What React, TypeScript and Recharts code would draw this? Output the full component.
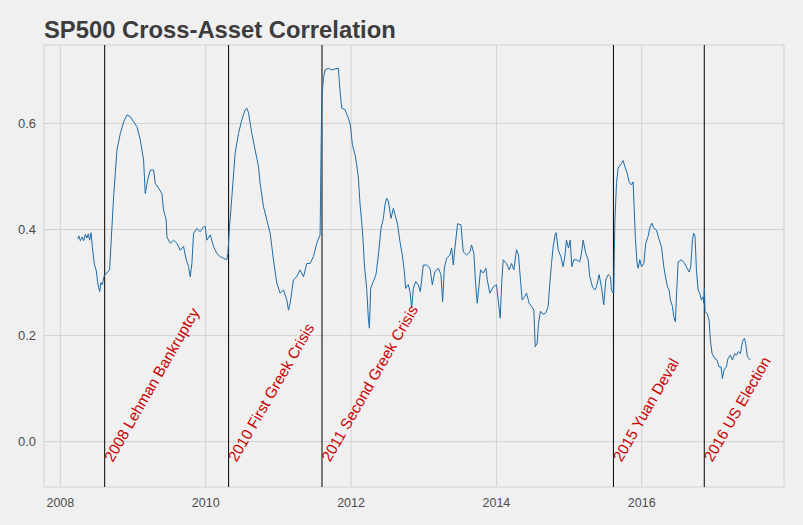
import { CartesianGrid, Line, LineChart, ReferenceDot, ReferenceLine, XAxis, YAxis } from 'recharts';

// decimal years
const dates = [
  2008.238, 2008.255, 2008.275, 2008.3, 2008.321, 2008.345, 2008.367, 2008.385, 2008.403, 2008.422,
  2008.44, 2008.467, 2008.495, 2008.513, 2008.541, 2008.559, 2008.577, 2008.605, 2008.641, 2008.678,
  2008.71, 2008.733, 2008.779, 2008.825, 2008.871, 2008.916, 2008.962, 2009.008, 2009.054, 2009.1,
  2009.145, 2009.168, 2009.2, 2009.237, 2009.283, 2009.306, 2009.352, 2009.397, 2009.42, 2009.457,
  2009.466, 2009.512, 2009.558, 2009.604, 2009.649, 2009.695, 2009.732, 2009.764, 2009.787, 2009.81,
  2009.833, 2009.879, 2009.924, 2009.97, 2009.993, 2010.016, 2010.062, 2010.108, 2010.153, 2010.199,
  2010.245, 2010.291, 2010.305, 2010.328, 2010.36, 2010.405, 2010.451, 2010.497, 2010.543, 2010.566,
  2010.589, 2010.635, 2010.68, 2010.726, 2010.749, 2010.795, 2010.841, 2010.887, 2010.932, 2010.978,
  2011.024, 2011.07, 2011.116, 2011.139, 2011.162, 2011.184, 2011.207, 2011.253, 2011.299, 2011.345,
  2011.391, 2011.436, 2011.482, 2011.528, 2011.574, 2011.587, 2011.597, 2011.62, 2011.642, 2011.688,
  2011.734, 2011.78, 2011.826, 2011.835, 2011.849, 2011.872, 2011.917, 2011.963, 2011.991, 2012.018,
  2012.055, 2012.078, 2012.101, 2012.124, 2012.146, 2012.169, 2012.183, 2012.215, 2012.238, 2012.252,
  2012.27, 2012.307, 2012.343, 2012.376, 2012.412, 2012.444, 2012.467, 2012.49, 2012.513, 2012.55,
  2012.582, 2012.605, 2012.641, 2012.673, 2012.705, 2012.733, 2012.751, 2012.788, 2012.811, 2012.834,
  2012.857, 2012.889, 2012.925, 2012.953, 2012.994, 2013.04, 2013.086, 2013.118, 2013.154, 2013.2,
  2013.237, 2013.26, 2013.283, 2013.315, 2013.361, 2013.384, 2013.407, 2013.429, 2013.466, 2013.512,
  2013.544, 2013.59, 2013.636, 2013.658, 2013.69, 2013.713, 2013.736, 2013.759, 2013.782, 2013.819,
  2013.855, 2013.874, 2013.91, 2013.956, 2014.002, 2014.025, 2014.052, 2014.075, 2014.094, 2014.139,
  2014.176, 2014.208, 2014.24, 2014.277, 2014.304, 2014.323, 2014.355, 2014.391, 2014.414, 2014.451,
  2014.483, 2014.515, 2014.534, 2014.561, 2014.579, 2014.607, 2014.643, 2014.68, 2014.712, 2014.735,
  2014.758, 2014.781, 2014.808, 2014.822, 2014.85, 2014.886, 2014.918, 2014.941, 2014.964, 2014.992,
  2015.015, 2015.038, 2015.065, 2015.102, 2015.147, 2015.17, 2015.193, 2015.23, 2015.262, 2015.285,
  2015.322, 2015.354, 2015.377, 2015.413, 2015.445, 2015.477, 2015.505, 2015.537, 2015.569, 2015.583,
  2015.606, 2015.615, 2015.629, 2015.652, 2015.675, 2015.707, 2015.744, 2015.767, 2015.799, 2015.826,
  2015.858, 2015.881, 2015.895, 2015.913, 2015.936, 2015.95, 2015.973, 2015.996, 2016.028, 2016.055,
  2016.087, 2016.11, 2016.138, 2016.165, 2016.202, 2016.239, 2016.271, 2016.303, 2016.326, 2016.353,
  2016.376, 2016.394, 2016.422, 2016.44, 2016.463, 2016.477, 2016.5, 2016.546, 2016.591, 2016.623,
  2016.651, 2016.674, 2016.697, 2016.715, 2016.733, 2016.752, 2016.775, 2016.798, 2016.82, 2016.843,
  2016.853, 2016.862, 2016.871, 2016.898, 2016.926, 2016.944, 2016.967, 2017.004, 2017.036, 2017.063,
  2017.091, 2017.109, 2017.132, 2017.164, 2017.187, 2017.219, 2017.247, 2017.279, 2017.302, 2017.329,
  2017.357, 2017.384, 2017.412, 2017.43, 2017.453, 2017.476, 2017.494,
];

const correlation = [
  0.382, 0.388, 0.379, 0.386, 0.379, 0.391, 0.384, 0.392, 0.38, 0.394,
  0.368, 0.335, 0.322, 0.3, 0.283, 0.3, 0.296, 0.314, 0.318, 0.325,
  0.405, 0.462, 0.55, 0.581, 0.603, 0.616, 0.613, 0.603, 0.594, 0.569,
  0.531, 0.468, 0.493, 0.512, 0.512, 0.487, 0.478, 0.468, 0.437, 0.418,
  0.386, 0.374, 0.38, 0.374, 0.361, 0.368, 0.343, 0.33, 0.311, 0.336,
  0.393, 0.402, 0.396, 0.405, 0.406, 0.38, 0.39, 0.368, 0.355, 0.349,
  0.346, 0.343, 0.355, 0.405, 0.462, 0.544, 0.581, 0.607, 0.626, 0.629,
  0.62, 0.581, 0.55, 0.519, 0.487, 0.443, 0.418, 0.393, 0.343, 0.299,
  0.28, 0.286, 0.267, 0.248, 0.261, 0.283, 0.305, 0.311, 0.324, 0.311,
  0.336, 0.336, 0.349, 0.374, 0.39, 0.542, 0.647, 0.685, 0.701, 0.704,
  0.701, 0.703, 0.704, 0.685, 0.66, 0.629, 0.626, 0.61, 0.597, 0.56,
  0.541, 0.522, 0.497, 0.447, 0.415, 0.371, 0.333, 0.289, 0.233, 0.214,
  0.289, 0.302, 0.315, 0.352, 0.402, 0.421, 0.447, 0.459, 0.453, 0.421,
  0.44, 0.428, 0.409, 0.377, 0.352, 0.321, 0.289, 0.296, 0.283, 0.252,
  0.289, 0.302, 0.296, 0.283, 0.333, 0.333, 0.327, 0.296, 0.321, 0.327,
  0.315, 0.264, 0.327, 0.346, 0.352, 0.365, 0.333, 0.365, 0.411, 0.409,
  0.358, 0.352, 0.358, 0.371, 0.355, 0.299, 0.261, 0.292, 0.324, 0.318,
  0.327, 0.305, 0.28, 0.292, 0.296, 0.267, 0.233, 0.305, 0.343, 0.336,
  0.324, 0.336, 0.324, 0.362, 0.352, 0.318, 0.267, 0.274, 0.28, 0.261,
  0.255, 0.248, 0.179, 0.186, 0.223, 0.246, 0.24, 0.243, 0.255, 0.299,
  0.336, 0.368, 0.39, 0.394, 0.362, 0.349, 0.33, 0.349, 0.38, 0.365,
  0.38, 0.33, 0.343, 0.343, 0.339, 0.355, 0.38, 0.355, 0.343, 0.311,
  0.292, 0.286, 0.292, 0.315, 0.292, 0.258, 0.305, 0.315, 0.311, 0.286,
  0.28, 0.28, 0.412, 0.487, 0.516, 0.522, 0.53, 0.519, 0.506, 0.49,
  0.484, 0.49, 0.443, 0.381, 0.336, 0.327, 0.343, 0.33, 0.336, 0.374,
  0.387, 0.403, 0.412, 0.403, 0.399, 0.381, 0.368, 0.33, 0.311, 0.292,
  0.286, 0.267, 0.255, 0.236, 0.226, 0.273, 0.339, 0.343, 0.336, 0.327,
  0.32, 0.33, 0.381, 0.393, 0.387, 0.324, 0.286, 0.28, 0.267, 0.273,
  0.261, 0.29, 0.245, 0.242, 0.229, 0.191, 0.166, 0.157, 0.154, 0.141,
  0.141, 0.119, 0.135, 0.141, 0.157, 0.163, 0.154, 0.166, 0.163, 0.17,
  0.166, 0.188, 0.195, 0.185, 0.16, 0.157, 0.154,
];

const eventDates = [2008.61, 2010.315, 2011.6, 2015.61, 2016.86];
const eventLabels = [
  '2008 Lehman Bankruptcy',
  '2010 First Greek Crisis',
  '2011 Second Greek Crisis',
  '2015 Yuan Deval',
  '2016 US Election',
];
const labelLevel = -0.04;

const xTicks = [2008, 2010, 2012, 2014, 2016];
const yTicks = [0, 0.2, 0.4, 0.6];

const data = dates.map((year, i) => ({ year, corr: correlation[i] }));

const FONT = '"Liberation Sans", Arial, Helvetica, sans-serif';

function EventLabel(props: any) {
  const { cx, cy, text } = props;
  const x = cx + 8;
  return (
    <text x={x} y={cy} transform={`rotate(-60 ${x} ${cy})`} fill="#cc0000" fontSize={15.3} fontFamily={FONT}>
      {text}
    </text>
  );
}

export default function App() {
  return (
    <div style={{ position: 'fixed', left: 0, top: 0, width: 803, height: 525, background: '#f0f0f0', fontFamily: FONT }}>
      <LineChart width={803} height={525} data={data} margin={{ top: 45, right: 19, bottom: 8, left: 0 }}>
        <CartesianGrid stroke="#d2d2d2" />
        <XAxis
          dataKey="year"
          type="number"
          domain={[2007.775, 2017.957]}
          ticks={xTicks}
          allowDataOverflow
          axisLine={false}
          tickLine={false}
          tickMargin={5}
          height={30}
          tick={{ fontSize: 12.5, fill: '#4d4d4d', fontFamily: FONT }}
          tickFormatter={(v) => String(v)}
        />
        <YAxis
          type="number"
          domain={[-0.0855, 0.748]}
          ticks={yTicks}
          allowDataOverflow
          axisLine={false}
          tickLine={false}
          width={44}
          tick={{ fontSize: 13, fill: '#4d4d4d', fontFamily: FONT }}
          tickFormatter={(v) => Number(v).toFixed(1)}
        />
        {eventDates.map((d) => (
          <ReferenceLine key={`l${d}`} x={d} stroke="#000000" strokeWidth={1} />
        ))}
        <Line
          type="linear"
          dataKey="corr"
          stroke="#1b6ca8"
          strokeWidth={1}
          dot={false}
          activeDot={false}
          isAnimationActive={false}
        />
        {eventDates.map((d, i) => (
          <ReferenceDot
            key={`t${d}`}
            x={d}
            y={labelLevel}
            r={0}
            ifOverflow="visible"
            shape={(p: any) => <EventLabel {...p} text={eventLabels[i]} />}
          />
        ))}
      </LineChart>
      <div
        style={{
          position: 'absolute',
          left: 44,
          top: 18.2,
          fontSize: 23.8,
          lineHeight: 1,
          fontWeight: 700,
          color: '#3c3c3c',
          whiteSpace: 'nowrap',
        }}
      >
        SP500 Cross-Asset Correlation
      </div>
    </div>
  );
}
